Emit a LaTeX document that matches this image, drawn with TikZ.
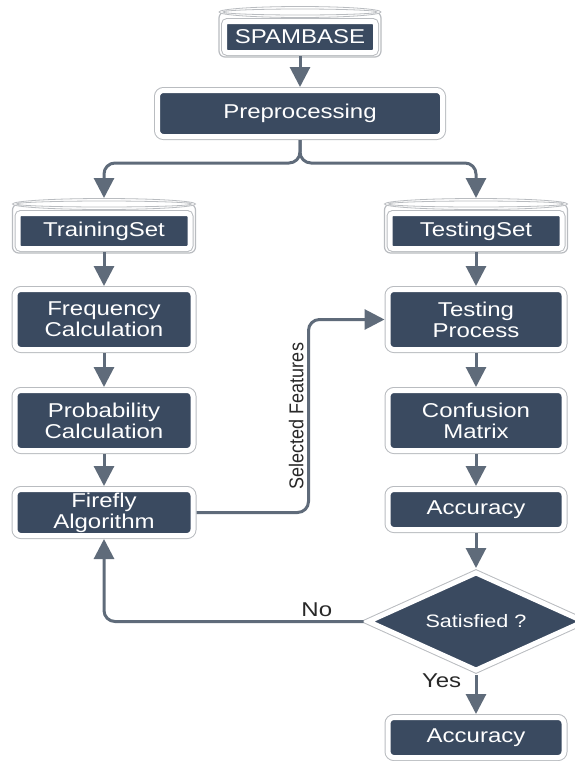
\documentclass[tikz,border=0pt]{standalone}
\usepackage{fontspec}
\setmainfont{Liberation Sans}[FakeStretch=1.2]
\newfontfamily\lblfont{Liberation Sans}[FakeStretch=0.9]
\usepackage{tikz}
\usetikzlibrary{shapes.geometric, arrows.meta, positioning, calc, backgrounds}
\usepackage{xcolor}
\definecolor{boxfill}{RGB}{58,74,96}
\definecolor{flowcol}{RGB}{95,107,122}
\definecolor{framecol}{RGB}{185,188,192}
\definecolor{txtdark}{RGB}{40,40,40}
\newcommand{\boxfont}{\fontsize{20}{21}\selectfont}
\newcommand{\dbframe}[1]{%
  \begin{scope}[on background layer]
    \draw[framecol, fill=white, line width=1.2pt, rounded corners=6pt]
      ($(#1.north west)+(-2,6)$) rectangle ($(#1.south east)+(2,-1)$);
  \end{scope}
  \path let \p1 = ($(#1.east)-(#1.west)$) in
    node[coordinate] (#1 c) at ($(#1.north)+(0,6)$) {}
    [draw=framecol, fill=white, line width=1.2pt] (#1 c) ellipse ({0.5*\x1+2pt} and 5.5pt)
    [draw=framecol, line width=0.8pt] (#1 c) ellipse ({0.5*\x1-2pt} and 3pt);
  \coordinate (#1 top) at ($(#1.north)+(0,12)$);
}

\begin{document}
\begin{tikzpicture}[
  x=1pt, y=1pt,
  box/.style={rectangle, rounded corners=6pt, fill=boxfill, draw=white,
              line width=5pt, preaction={draw=framecol, line width=7pt},
              text=white, align=center, inner sep=0pt, outer sep=3.5pt,
              minimum width=178pt, font=\boxfont},
  dbbox/.style={box, rounded corners=3pt, minimum width=172pt,
                minimum height=35pt},
  decision/.style={box, diamond, sharp corners, aspect=2.3,
                   minimum width=218pt, minimum height=100pt},
  flow/.style={-{Triangle[length=20pt,width=20pt]}, line width=3pt,
               flowcol, rounded corners=11pt},
  lbl/.style={font=\boxfont, text=txtdark},
  sidelbl/.style={font=\lblfont\fontsize{20}{22}\selectfont, text=txtdark},
  node distance=34pt
]
\useasboundingbox (0,0) rectangle (575,-761);
\clip (0,0) rectangle (575,-761);

% Data set and preprocessing
\node[dbbox, minimum width=151pt, minimum height=31pt] (spam) at (300,-37) {SPAMBASE};
\dbframe{spam}
\node[box, minimum width=285pt, minimum height=46pt, below=31pt of spam] (prep)
    {Preprocessing};

% Training branch
\node[dbbox] (train) at (104,-231) {TrainingSet};
\dbframe{train}
\node[box, minimum height=60pt, below=of train] (freq) {Frequency\\Calculation};
\node[box, minimum height=60pt, below=of freq] (prob) {Probability\\Calculation};
\node[box, minimum height=46pt, below=32pt of prob] (fire) {Firefly\\Algorithm};

% Testing branch
\node[dbbox] (test) at (476,-231) {TestingSet};
\dbframe{test}
\node[box, minimum width=176pt, minimum height=60pt, below=of test] (tproc)
    {Testing\\Process};
\node[box, minimum width=176pt, minimum height=60pt, below=of tproc] (conf)
    {Confusion\\Matrix};
\node[box, minimum width=176pt, minimum height=40pt, below=32pt of conf] (acc)
    {Accuracy};
\node[decision, font=\fontsize{18}{20}\selectfont, below=35pt of acc] (sat)
    {Satisfied ?};
\node[box, minimum width=176pt, minimum height=40pt, below=39pt of sat] (fin)
    {Accuracy};

% Main flow
\draw[flow] (spam.south) -- (prep.north);
\draw[flow] (prep.south) -- ++(0,-23) -| (train top);
\draw[flow] (prep.south) -- ++(0,-23) -| (test top);
\draw[flow] (train.south) -- (freq.north);
\draw[flow] (freq.south) -- (prob.north);
\draw[flow] (prob.south) -- (fire.north);
\draw[flow] (test.south) -- (tproc.north);
\draw[flow] (tproc.south) -- (conf.north);
\draw[flow] (conf.south) -- (acc.north);
\draw[flow] (acc.south) -- (sat.north);

% Feature selection loop
\draw[flow] (fire.east) -- ++(112,0)
    |- node[pos=0.25, sloped, above, sidelbl]{Selected Features} (tproc.west);
\draw[flow] (sat.west) -| node[pos=0.09, above, lbl]{No} (fire.south);
\draw[flow] (sat.south) -- node[pos=0.15, left, xshift=-10pt, lbl]{Yes} (fin.north);
\end{tikzpicture}
\end{document}
